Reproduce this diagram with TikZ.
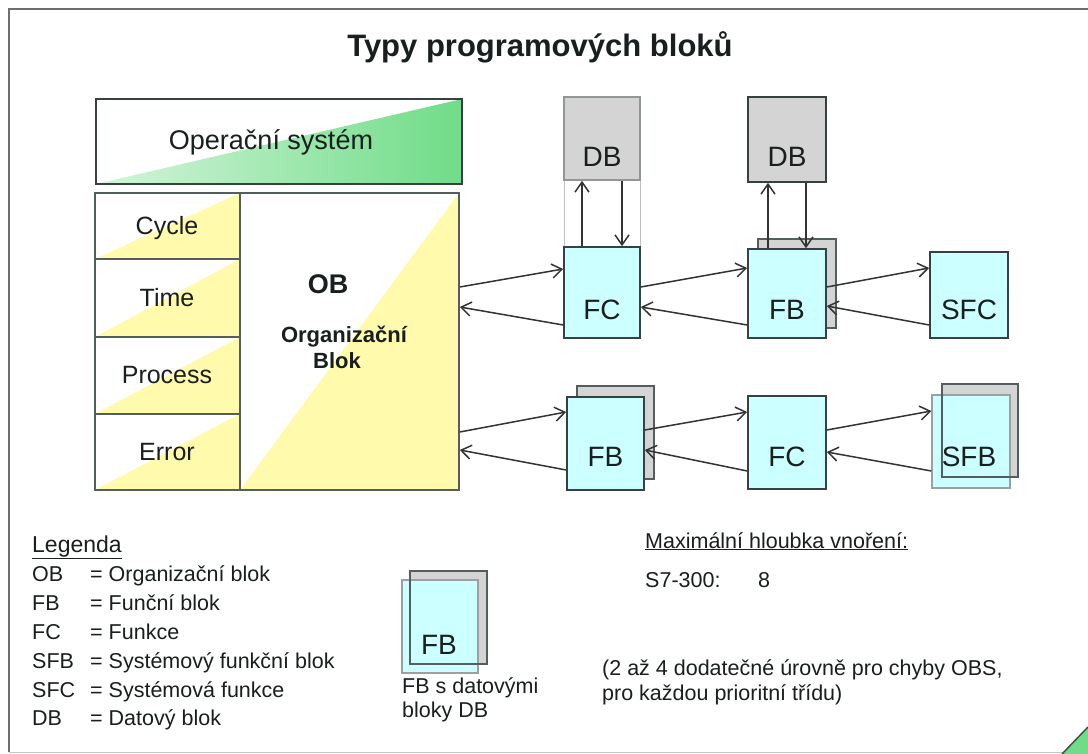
\documentclass[tikz,border=0pt]{standalone}
\usepackage{fontspec}
\setmainfont{Liberation Sans}
\usetikzlibrary{positioning, arrows.meta, calc}
\definecolor{frameline}{RGB}{110,110,110}
\definecolor{boxline}{RGB}{55,65,65}
\definecolor{cyanfill}{RGB}{204,255,255}
\definecolor{dbfill}{RGB}{212,212,212}
\definecolor{obyellow}{RGB}{255,250,172}
\definecolor{osgreen}{RGB}{112,220,136}
\definecolor{textdark}{RGB}{25,30,30}

\tikzset{
  blk/.style={draw=boxline, line width=1.6pt, fill=cyanfill, minimum width=77pt, minimum height=91pt, inner sep=0pt},
  dbbox/.style={blk, fill=dbfill},
  shadowbox/.style={draw=boxline!85, line width=1.4pt, fill=dbfill, minimum width=77pt, minimum height=91pt, inner sep=0pt},
  lbl/.style={font=\fontsize{28}{32}\selectfont, text=textdark},
  cell/.style={font=\fontsize{25}{29}\selectfont, text=textdark, anchor=base},
  legtxt/.style={font=\fontsize{21.5}{24}\selectfont, text=textdark, anchor=base west, inner sep=0pt},
  arr/.style={line width=1.5pt, draw=black!80, -{Straight Barb[length=10pt,width=14pt,line width=1.5pt]}},
}

\begin{document}
\begin{tikzpicture}[x=1pt, y=-1pt]
    \useasboundingbox (0,0) rectangle (1088,754);
    \fill[white] (0,0) rectangle (1088,754);

    % ramecek snimku
    \draw[frameline, line width=2pt] (1088,9) -- (9,9) -- (9,752);
    \draw[frameline!40, line width=1pt] (9,752) -- (1088,752);
    \fill[osgreen] (1062,754) -- (1088,727) -- (1088,754) -- cycle;
    \draw[black!70, line width=1.5pt] (1062,754) -- (1088,727);

    % nadpis
    \node[font=\fontsize{31}{36}\selectfont\bfseries, text=textdark, anchor=base] (title) at (540,57) {Typy programových bloků};

    % operacni system
    \shade[left color=osgreen!30!white, right color=osgreen] (96,184) -- (462,99) -- (462,184) -- cycle;
    \node[draw=boxline, line width=1.6pt, minimum width=366pt, minimum height=85pt, inner sep=0pt] (osys) at (279,141.5) {};
    \node[font=\fontsize{27}{31}\selectfont, text=textdark, anchor=base] (ostxt) at (271,150) {Operační systém};

    % organizacni blok
    \foreach \t/\b in {193/259, 259/337, 337/414, 414/490}
        \fill[obyellow] (95,\b) -- (240,\t) -- (240,\b) -- cycle;
    \fill[obyellow] (240,490) -- (459,193) -- (459,490) -- cycle;
    \node[draw=boxline!85, line width=1.6pt, minimum width=364pt, minimum height=297pt, inner sep=0pt] (ob) at (277,341.5) {};
    \draw[boxline!85, line width=1.4pt] (240,193) -- (240,490);
    \draw[boxline!85, line width=1.4pt] (95,259) -- (240,259) (95,337) -- (240,337) (95,414) -- (240,414);
    \node[cell] (cycle) at (167,235) {Cycle};
    \node[cell] (time) at (167,307) {Time};
    \node[cell] (process) at (167,383) {Process};
    \node[cell] (error) at (167,460) {Error};
    \node[font=\fontsize{27}{31}\selectfont\bfseries, text=textdark, anchor=base] (obtxt) at (328,294) {OB};
    \node[font=\fontsize{22}{26}\selectfont\bfseries, text=textdark, anchor=base] (obname) at (344,343) {Organizační};
    \node[font=\fontsize{22}{26}\selectfont\bfseries, text=textdark, anchor=base] (obblok) at (337,369) {Blok};

    % horni rada
    \draw[black!25, line width=1pt] (564,180) -- (564,247) (640,180) -- (640,247);
    \node[dbbox, draw=boxline!55, minimum width=76pt, minimum height=83pt] (dbA) at (602,138.5) {};
    \node[lbl] (dbAt) at (602,157) {DB};
    \node[blk, minimum width=76pt] (fcA) at (602,292.5) {};
    \node[lbl] (fcAt) at (602,310) {FC};

    \node[dbbox, draw=boxline, minimum width=78pt, minimum height=85pt] (dbB) at (787,139.5) {};
    \node[lbl] (dbBt) at (787,157) {DB};
    \node[shadowbox, minimum width=78pt, minimum height=89pt] (fbAs) at (797,283.5) {};
    \node[blk, minimum width=78pt, minimum height=89pt] (fbA) at (787,293.5) {};
    \node[lbl] (fbAt) at (787,310) {FB};

    \node[blk, minimum width=78pt, minimum height=86pt] (sfc) at (969,295) {};
    \node[lbl] (sfct) at (969,310) {SFC};

    % dolni rada
    \node[shadowbox, minimum height=93pt] (fbBs) at (615.5,432.5) {};
    \node[blk, minimum height=93pt] (fbB) at (605.5,443.5) {};
    \node[lbl] (fbBt) at (605.5,457) {FB};

    \node[blk, minimum width=78pt, minimum height=93pt] (fcB) at (787,442.5) {};
    \node[lbl] (fcBt) at (787,457) {FC};

    \node[shadowbox, minimum width=76pt, minimum height=93pt] (sfbs) at (980,430.5) {};
    \node[blk, draw=boxline!50, line width=1.2pt, minimum width=78pt, minimum height=93pt] (sfb) at (971,441.5) {};
    \node[draw=boxline!85, line width=1.4pt, minimum width=76pt, minimum height=93pt, inner sep=0pt] (sfbo) at (980,430.5) {};
    \node[lbl] (sfbt) at (969,457) {SFB};

    % volani bloku
    \draw[arr] ([xshift=-20pt]fcA.north) -- ([xshift=-20pt]dbA.south);
    \draw[arr] ([xshift=20pt]dbA.south) -- ([xshift=20pt]fcA.north);
    \draw[arr] ([xshift=-19pt]fbA.north) -- ([xshift=-19pt]dbB.south);
    \draw[arr] ([xshift=19pt]dbB.south) -- ([xshift=19pt]fbA.north);

    \draw[arr] ([yshift=54.5pt]ob.east) -- ([yshift=23.5pt]fcA.west);
    \draw[arr] ([yshift=-32.5pt]fcA.west) -- ([yshift=34.5pt]ob.east);
    \draw[arr] ([yshift=5.5pt]fcA.east) -- ([yshift=25.5pt]fbA.west);
    \draw[arr] ([yshift=-31.5pt]fbA.west) -- ([yshift=-14.5pt]fcA.east);
    \draw[arr] ([yshift=6.5pt]fbA.east) -- ([yshift=27pt]sfc.west);
    \draw[arr] ([yshift=-30pt]sfc.west) -- ([yshift=-12.5pt]fbA.east);

    \draw[arr] ([yshift=-90.5pt]ob.east) -- ([yshift=31.5pt]fbB.west);
    \draw[arr] ([yshift=-26.5pt]fbB.west) -- ([yshift=-108.5pt]ob.east);
    \draw[arr] ([yshift=13.5pt]fbB.east) -- ([yshift=30.5pt]fcB.west);
    \draw[arr] ([yshift=-28.5pt]fcB.west) -- ([yshift=-6.5pt]fbB.east);
    \draw[arr] ([yshift=12.5pt]fcB.east) -- ([yshift=30.5pt]sfb.west);
    \draw[arr] ([yshift=-29.5pt]sfb.west) -- ([yshift=-9.5pt]fcB.east);

    % legenda
    \node[legtxt, font=\fontsize{23}{26}\selectfont] (leg) at (32,552) {\underline{Legenda}};
    \node[legtxt] (legOB) at (32,581) {OB};
    \node[legtxt] (legOBt) at (90,581) {= Organizační blok};
    \node[legtxt] (legFB) at (32,610) {FB};
    \node[legtxt] (legFBt) at (90,610) {= Funční blok};
    \node[legtxt] (legFC) at (32,639) {FC};
    \node[legtxt] (legFCt) at (90,639) {= Funkce};
    \node[legtxt] (legSFB) at (32,668) {SFB};
    \node[legtxt] (legSFBt) at (90,668) {= Systémový funkční blok};
    \node[legtxt] (legSFC) at (32,697) {SFC};
    \node[legtxt] (legSFCt) at (90,697) {= Systémová funkce};
    \node[legtxt] (legDB) at (32,725) {DB};
    \node[legtxt] (legDBt) at (90,725) {= Datový blok};

    % FB s datovymi bloky
    \node[shadowbox, minimum width=77pt, minimum height=93pt] (fbLs) at (448.5,617.5) {};
    \node[blk, draw=boxline!50, line width=1.2pt, minimum width=76pt, minimum height=93pt] (fbL) at (440,626.5) {};
    \node[draw=boxline!85, line width=1.4pt, minimum width=77pt, minimum height=93pt, inner sep=0pt] (fbLo) at (448.5,617.5) {};
    \node[lbl] (fbLt) at (439,645) {FB};
    \node[legtxt] (fbLa) at (402,693) {FB s datovými};
    \node[legtxt] (fbLb) at (402,717) {bloky DB};

    % hloubka vnoreni
    \node[legtxt] (depth) at (645,548) {\underline{Maximální hloubka vnoření:}};
    \node[legtxt] (s7) at (645,587) {S7-300:};
    \node[legtxt] (s7n) at (758,587) {8};
    \node[legtxt] (noteA) at (602,675) {(2 až 4 dodatečné úrovně pro chyby OBS,};
    \node[legtxt] (noteB) at (602,700) {pro každou prioritní třídu)};
\end{tikzpicture}
\end{document}
